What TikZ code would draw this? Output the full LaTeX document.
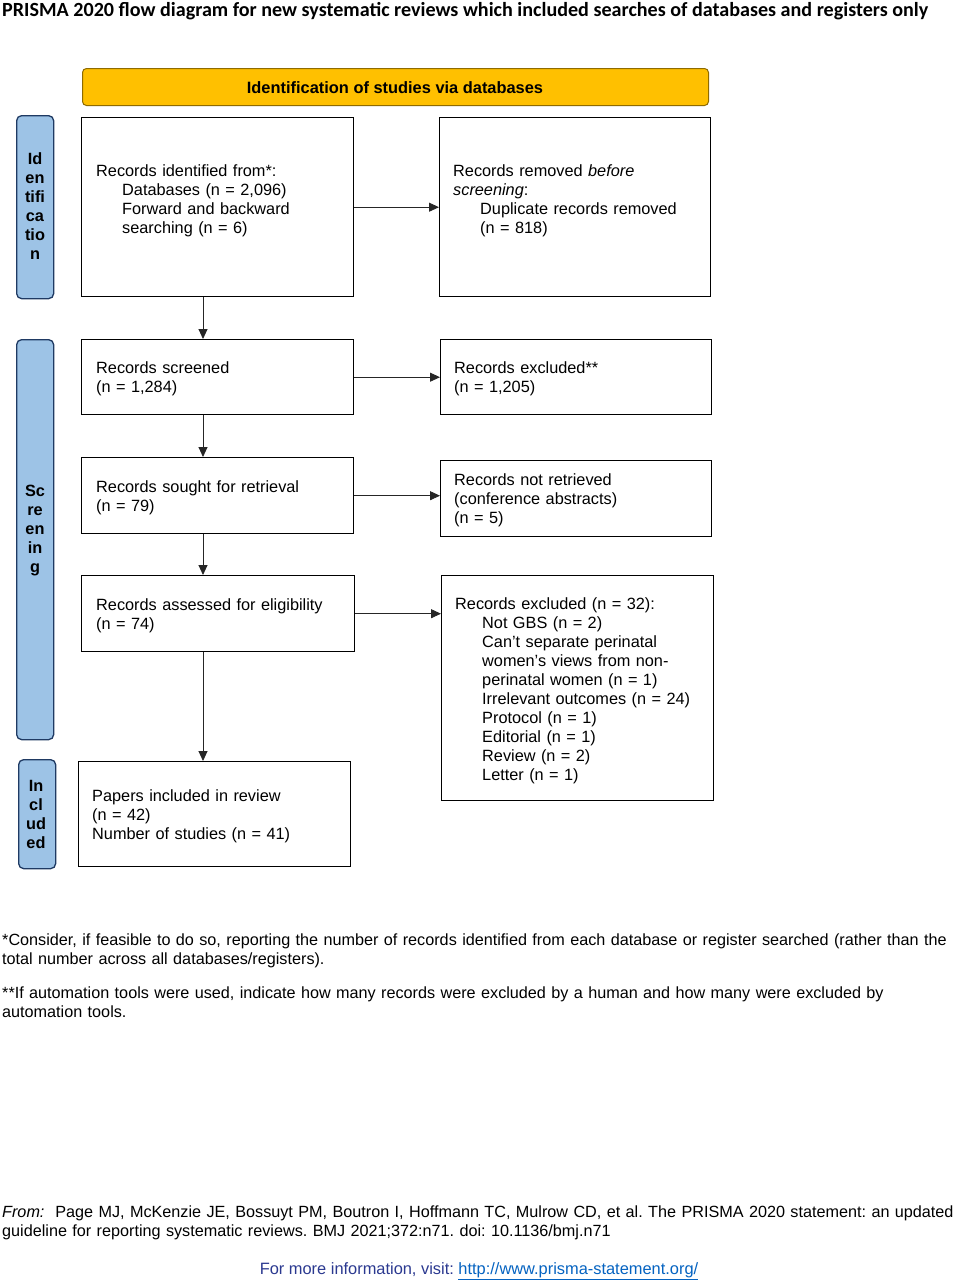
\documentclass[tikz,border=0pt]{standalone}
\usepackage{fontspec}
\setmainfont{Liberation Sans}
\newfontfamily\titlefont{Carlito}
\usetikzlibrary{arrows.meta}
\definecolor{hdrfill}{HTML}{FFC000}
\definecolor{hdrdraw}{HTML}{8F6B00}
\definecolor{sidefill}{HTML}{9DC3E6}
\definecolor{sidedraw}{HTML}{1F3A63}
\definecolor{infoblue}{HTML}{2B3990}
\definecolor{linkblue}{HTML}{0563C1}
\begin{document}
\frenchspacing
\begin{tikzpicture}[x=1pt,y=-1pt,
  box/.style={draw=black, line width=1.4pt, anchor=north west, inner sep=0pt, fill=white},
  sidebox/.style={draw=sidedraw, fill=sidefill, line width=1.3pt, rounded corners=5pt, anchor=north west, inner sep=0pt},
  hdrbox/.style={draw=hdrdraw, fill=hdrfill, line width=1pt, rounded corners=4pt, anchor=north west, inner sep=0pt},
  txt/.style={anchor=base west, align=left, inner sep=0pt, text width=#1, font=\fontsize{16.3}{19}\selectfont},
  txt/.default=260pt,
  sidetxt/.style={align=center, inner sep=0pt, font=\fontsize{16.3}{19}\selectfont\bfseries},
  note/.style={anchor=base west, align=left, inner sep=0pt, text width=957pt, font=\fontsize{16.2}{19}\selectfont},
  arr/.style={-{Triangle[length=10pt,width=9pt]}, line width=0.9pt, draw=black!85}
]
\useasboundingbox (0,0) rectangle (959,1280);
\fill[white] (0,0) rectangle (959,1280);

% title
\node[anchor=base west, inner sep=0pt, font=\titlefont\bfseries\fontsize{20.1}{22}\selectfont] (title) at (2,16)
  {PRISMA 2020 flow diagram for new systematic reviews which included searches of databases and registers only};

% header
\node[hdrbox, minimum width=626pt, minimum height=37pt] (hdr) at (82,68) {};
\node[inner sep=0pt, font=\bfseries\fontsize{16.4}{19}\selectfont] (hdrt) at (395,88) {Identification of studies via databases};

% side labels
\node[sidebox, minimum width=37pt, minimum height=183pt] (sid) at (16,115) {};
\node[sidetxt] (sidt) at (35,206) {Id\\en\\tifi\\ca\\tio\\n};
\node[sidebox, minimum width=37pt, minimum height=400pt] (scr) at (16,339) {};
\node[sidetxt] (scrt) at (35,531) {Sc\\re\\en\\in\\g};
\node[sidebox, minimum width=37pt, minimum height=109pt] (inc) at (18,759) {};
\node[sidetxt] (inct) at (36,814) {In\\cl\\ud\\ed};

% boxes
\node[box, minimum width=272pt, minimum height=179pt] (b1) at (81,117) {};
\node[box, minimum width=271pt, minimum height=179pt] (b2) at (439,117) {};
\node[box, minimum width=272pt, minimum height=75pt] (b3) at (81,339) {};
\node[box, minimum width=271pt, minimum height=75pt] (b4) at (440,339) {};
\node[box, minimum width=272pt, minimum height=76pt] (b5) at (81,457) {};
\node[box, minimum width=271pt, minimum height=76pt] (b6) at (440,460) {};
\node[box, minimum width=273pt, minimum height=76pt] (b7) at (81,575) {};
\node[box, minimum width=272pt, minimum height=225pt] (b8) at (441,575) {};
\node[box, minimum width=272pt, minimum height=105pt] (b9) at (78,761) {};

% box texts
\node[txt] (t1) at (96,176) {Records identified from*:\\
  \hspace*{26pt}Databases (n = 2,096)\\
  \hspace*{26pt}Forward and backward\\
  \hspace*{26pt}searching (n = 6)};
\node[txt] (t2) at (453,176) {Records removed \textit{before}\\
  \textit{screening}:\\
  \hspace*{27pt}Duplicate records removed\\
  \hspace*{27pt}(n = 818)};
\node[txt] (t3) at (96,373) {Records screened\\(n = 1,284)};
\node[txt] (t4) at (454,373) {Records excluded**\\(n = 1,205)};
\node[txt] (t5) at (96,492) {Records sought for retrieval\\(n = 79)};
\node[txt] (t6) at (454,485) {Records not retrieved\\(conference abstracts)\\(n = 5)};
\node[txt] (t7) at (96,610) {Records assessed for eligibility\\(n = 74)};
\node[txt] (t8) at (455,609) {Records excluded (n = 32):\\
  \hspace*{27pt}Not GBS (n = 2)\\
  \hspace*{27pt}Can’t separate perinatal\\
  \hspace*{27pt}women’s views from non-\\
  \hspace*{27pt}perinatal women (n = 1)\\
  \hspace*{27pt}Irrelevant outcomes (n = 24)\\
  \hspace*{27pt}Protocol (n = 1)\\
  \hspace*{27pt}Editorial (n = 1)\\
  \hspace*{27pt}Review (n = 2)\\
  \hspace*{27pt}Letter (n = 1)};
\node[txt] (t9) at (92,801) {Papers included in review\\(n = 42)\\Number of studies (n = 41)};

% arrows
\coordinate (vx) at (203,0);
\draw[arr] (b1.east) -- (b1.east -| b2.west);
\draw[arr] (b3.east) -- (b3.east -| b4.west);
\draw[arr] (b5.east) -- (b5.east -| b6.west);
\draw[arr] (b7.east) -- (b7.east -| b8.west);
\draw[arr] (b1.south -| vx) -- (b3.north -| vx);
\draw[arr] (b3.south -| vx) -- (b5.north -| vx);
\draw[arr] (b5.south -| vx) -- (b7.north -| vx);
\draw[arr] (b7.south -| vx) -- (b9.north -| vx);

% footnotes
\node[note] (n1) at (2,945) {*Consider, if feasible to do so, reporting the number of records identified from each database or register searched (rather than the\\total number across all databases/registers).};
\node[note] (n2) at (2,998) {**If automation tools were used, indicate how many records were excluded by a human and how many were excluded by\\automation tools.};
\node[note] (n3) at (2,1217) {\textit{From:}\ \ Page MJ, McKenzie JE, Bossuyt PM, Boutron I, Hoffmann TC, Mulrow CD, et al. The PRISMA 2020 statement: an updated\\guideline for reporting systematic reviews. BMJ 2021;372:n71. doi: 10.1136/bmj.n71};
\node[anchor=base, inner sep=0pt, font=\fontsize{16.4}{19}\selectfont, text=infoblue] (n4) at (479,1274)
  {For more information, visit: \textcolor{linkblue}{\underline{http://www.prisma-statement.org/}}};
\end{tikzpicture}
\end{document}
